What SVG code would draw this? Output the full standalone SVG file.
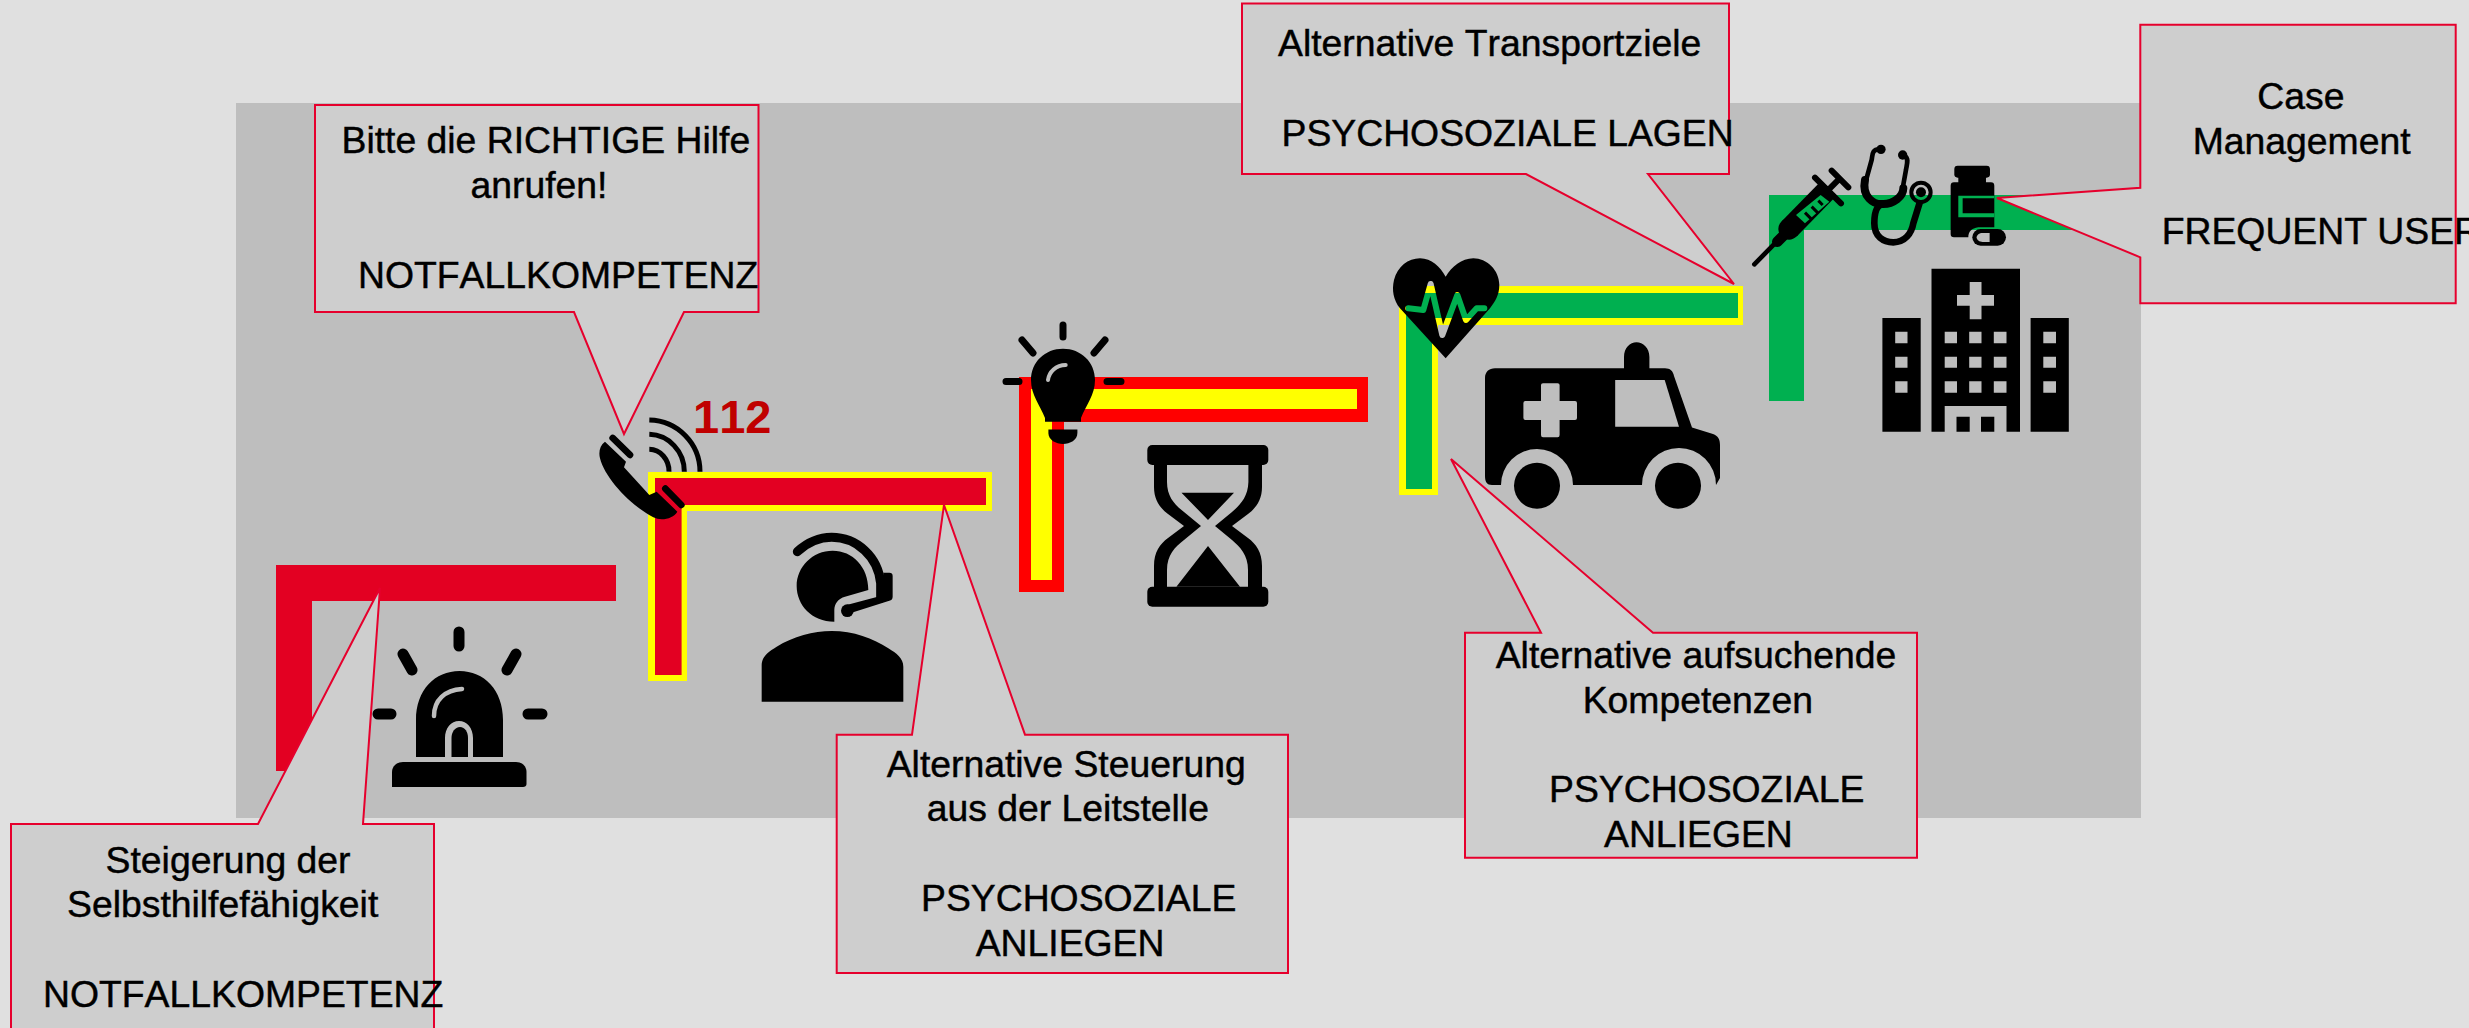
<svg xmlns="http://www.w3.org/2000/svg" width="2469" height="1028" viewBox="0 0 2469 1028">
<style>
text{font-family:"Liberation Sans",Arial,sans-serif;font-size:37.33px;fill:#000;stroke:#000;stroke-width:.45;font-kerning:none}
.call{fill:#CECECE;stroke:#E6002D;stroke-width:2;stroke-linejoin:miter}
.ray{fill:none;stroke:#000;stroke-linecap:round}
.gap{fill:#BEBEBE}
</style>
<defs>
<mask id="pulse" maskUnits="userSpaceOnUse" x="0" y="0" width="420" height="390">
<rect width="420" height="390" fill="#fff"/>
<polyline points="85,205 130,210 152,132 187,285 232,165 258,240 290,205 313,205" fill="none" stroke="#000" stroke-width="18" stroke-linejoin="round" stroke-linecap="round"/>
</mask>
</defs>
<rect id="background" width="2469" height="1028" fill="#E0E0E0"/>
<rect id="panel" x="236" y="103" width="1905" height="715" fill="#BEBEBE"/>
<g id="connectors">
<path fill="#E30022" d="M276 565H616V601H312V771H276Z"/>
<path fill="#FFFF00" d="M648 472H992V511H687V681H648Z"/>
<path fill="#E30022" d="M655 478H986V505H681.600V675H655Z"/>
<path fill="#FF0000" d="M1019 377H1368V422H1064V592H1019Z"/>
<path fill="#FFFF00" d="M1031 389H1357V409H1052V580H1031Z"/>
<path fill="#FFFF00" d="M1399 286H1743V325H1438V495H1399Z"/>
<path fill="#00B050" d="M1406 293H1738V318H1432V489H1406Z"/>
<path fill="#00B050" d="M1769 195H2090V230H1804V401H1769Z"/>
</g>
<g id="icon-alarm">
<g class="ray" stroke-width="11"><path d="M459 632V646M403 654L412 670M516 654L507 670M378 714H391M528 714H542"/></g>
<path d="M416 757V720C416 690 435 671 459.500 671C484 671 503 690 503 720V757H473V738C473 728 467 721 459 721C451 721 445 728 445 738V757Z"/>
<path d="M451.500 757V738C451.500 732 455 727 460 727C465 727 468 732 468 738V757Z"/>
<path d="M462 689C445 690 434 700 434 716" fill="none" stroke="#BEBEBE" stroke-width="4.500" stroke-linecap="round"/>
<path d="M392 787V772C392 766 397 762 403 762H516C522 762 526.500 766 526.500 772V784C526.500 786 525 787 523 787Z"/>
</g>
<g id="icon-phone" transform="translate(590 390) scale(.3333)">
<path d="M45 155L108 215L102 232L178 315L200 305L262 365C250 385 215 395 190 382C120 345 45 265 30 205C25 185 30 165 45 155Z"/>
<g class="ray"><path stroke-width="20" d="M68 144L120 195M226 296L274 345"/></g>
<g fill="none" stroke="#000" stroke-width="15"><path d="M178 90A155 155 0 0 1 330 245"/><path d="M178 133A108 112 0 0 1 283 245"/><path d="M178 178A60 66 0 0 1 237 245"/></g>
</g>
<text id="label-112" x="693" y="432.500" style="font-size:47px;font-weight:bold;fill:#C00000;stroke:none">112</text>
<g id="icon-headset" transform="translate(740 520) scale(.3333)">
<path d="M283 305C215 305 170 255 170 198C170 140 218 92 278 92C338 92 385 140 385 210L315 230C295 236 283 250 283 270Z"/>
<path d="M172 95C205 65 240 52 275 52C350 52 415 110 422 190V235" fill="none" stroke="#000" stroke-width="27" stroke-linecap="round"/>
<path d="M430 158H448Q458 158 458 168V230Q458 240 448 242L330 280L320 255L430 226Z"/>
<circle cx="322" cy="272" r="19"/>
<path d="M65 545V435C65 410 85 395 110 380C160 350 220 333 275 333C340 333 400 355 445 385C470 400 490 415 490 440V545Z"/>
</g>
<g id="icon-bulb">
<g class="ray" stroke-width="7"><path d="M1063 325V337M1022 340L1033 353M1105 340L1094 353M1006 381.500H1019M1107 381.500H1121"/></g>
<path d="M1063 348.700C1045 348.700 1031 362 1031 380C1031 395 1040 405 1045 418V421.700H1081V418C1086 405 1095 395 1095 380C1095 362 1081 348.700 1063 348.700Z"/>
<path d="M1065.700 365C1056 365 1049 372 1048 380" fill="none" stroke="#BEBEBE" stroke-width="4" stroke-linecap="round"/>
<path d="M1048.400 429.500H1077.400V433C1077.400 440 1070 444 1063 444C1056 444 1048.400 440 1048.400 433Z"/>
</g>
<g id="icon-hourglass">
<rect x="1147.300" y="445" width="121" height="20" rx="5"/>
<rect x="1147.300" y="586.700" width="121" height="20" rx="5"/>
<path fill-rule="evenodd" d="M1154 460V487C1154 500 1160 508 1168 514L1184 526L1168 538C1160 544 1154 552 1154 566V592H1262V566C1262 552 1256 544 1248 538L1232 526L1248 514C1256 508 1262 500 1262 487V460ZM1167 465H1248.400V482C1248 497 1240 505 1232 512L1215 526L1232 540C1240 547 1248 555 1248 570V587H1167V570C1167 555 1175 547 1184 540L1201 526L1184 512C1175 505 1167 497 1167 482Z"/>
<path d="M1181.500 492.700H1234L1208 520ZM1208 546L1240 586.700H1176.400Z"/>
</g>
<g id="icon-heart" transform="translate(1380 240) scale(.3333)">
<path mask="url(#pulse)" d="M197 355L60 205C40 180 35 150 42 120C52 80 85 55 120 55C155 55 180 80 197 110C215 80 245 55 280 55C320 55 358 90 358 135C358 165 345 185 330 205Z"/>
</g>
<g id="icon-ambulance">
<path d="M1495 368.300H1624V357C1624 348 1630 342.300 1636.500 342.300C1643 342.300 1649.400 348 1649.400 357V368.300H1665C1670 368.300 1673 371 1674 376L1692 427.500L1713 434C1718 436 1720 439 1720 445V478L1716 485A36 36 0 0 0 1642 485H1573A36 36 0 0 0 1501 485H1492C1487 485 1485 482 1485 476V378C1485 372 1489 368.300 1495 368.300Z"/>
<path class="gap" d="M1615.200 380H1664.700L1679 426.700H1615.200Z"/>
<path class="gap" d="M1541 385Q1541 383.300 1543 383.300H1557.600Q1559.600 383.300 1559.600 385V401H1575Q1577 401 1577 403V418Q1577 420 1575 420H1559.600V435Q1559.600 437.300 1557.600 437.300H1543Q1541 437.300 1541 435V420H1525.400Q1523.400 420 1523.400 418V403Q1523.400 401 1525.400 401H1541Z"/>
<circle cx="1537" cy="485.700" r="23"/>
<circle cx="1678" cy="485.700" r="23"/>
</g>
<g id="icon-syringe" transform="translate(1740 130) scale(.3333)">
<path class="ray" stroke-width="14" d="M43 403L110 335"/>
<path class="ray" stroke-width="32" d="M112 335L130 317"/>
<path fill="none" stroke="#000" stroke-width="64" d="M148 296L258 184"/>
<circle cx="147" cy="297" r="32"/>
<path fill="#00B050" d="M168 255L242 195L268 215L195 280Z"/>
<path fill="none" stroke="#000" stroke-width="9" d="M195 248L215 268M215 230L235 250M235 212L248 225"/>
<path class="ray" stroke-width="18" d="M260 185L295 150M275 122L325 172M225 143L303 220"/>
</g>
<g id="icon-stethoscope" transform="translate(1740 130) scale(.3333)">
<circle cx="423" cy="58" r="14"/><circle cx="488" cy="75" r="14"/>
<path d="M418 58C395 58 398 75 395 90L377 155M494 78C508 85 500 105 498 120L488 175" fill="none" stroke="#000" stroke-width="14"/>
<path d="M375 150C365 200 400 225 430 222C460 222 490 200 490 175" fill="none" stroke="#000" stroke-width="24" stroke-linecap="round"/>
<path d="M430 222C405 225 403 260 403 280C403 320 430 337 460 337C495 337 515 310 520 280L540 215" fill="none" stroke="#000" stroke-width="20"/>
<circle cx="543" cy="187" r="29" fill="none" stroke="#000" stroke-width="12"/>
<circle cx="543" cy="187" r="15"/>
</g>
<g id="icon-medicine" transform="translate(1740 130) scale(.3333)">
<rect x="643" y="107" width="107" height="36" rx="10"/>
<rect x="655" y="140" width="83" height="20"/>
<path d="M642 157H753Q763 157 763 167V292H715C695 295 685 305 685 322H642Q632 322 632 312V167Q632 157 642 157Z"/>
<path fill="#00B050" d="M655 197H763V205H668V250H763V262H655Z"/>
<rect x="697" y="297" width="101" height="50" rx="25"/>
<path class="gap" d="M728 309H749V336H728C718 336 710 330 710 322C710 315 718 309 728 309Z"/>
</g>
<g id="icon-hospital">
<path fill-rule="evenodd" d="M1931.500 268.700H2020V431.700H2006.500V406H1944.700V431.700H1931.500ZM1969.700 282V295H1957V305.700H1969.700V319.300H1981.500V305.700H1994V295H1981.500V282ZM1944.700 331.700V343.300H1957V331.700ZM1969.200 331.700V343.300H1981.500V331.700ZM1993.800 331.700V343.300H2006.500V331.700ZM1944.700 356.700V367.700H1957V356.700ZM1969.200 356.700V367.700H1981.500V356.700ZM1993.800 356.700V367.700H2006.500V356.700ZM1944.700 381.300V392.700H1957V381.300ZM1969.200 381.300V392.700H1981.500V381.300ZM1993.800 381.300V392.700H2006.500V381.300Z"/>
<path d="M1956.500 416.700H1969.700V431.700H1956.500ZM1981 416.700H1994.300V431.700H1981Z"/>
<path fill-rule="evenodd" d="M1882.400 318H1920.700V431.700H1882.400ZM1895.200 331.700V343.300H1907.500V331.700ZM1895.200 356.700V367.700H1907.500V356.700ZM1895.200 381.300V392.700H1907.500V381.300Z"/>
<path fill-rule="evenodd" d="M2030.600 318H2068.800V431.700H2030.600ZM2043.300 331.700V343.300H2056V331.700ZM2043.300 356.700V367.700H2056V356.700ZM2043.300 381.300V392.700H2056V381.300Z"/>
</g>
<g id="callout-selbsthilfe">
<path class="call" d="M11 824H258L380 588L363 824H434V1040H11Z"/>
<text x="105.600" y="873">Steigerung der</text>
<text x="67" y="917">Selbsthilfefähigkeit</text>
<text x="43" y="1007">NOTFALLKOMPETENZ</text>
</g>
<g id="callout-hilfe">
<path class="call" d="M315 105H758.500V312H684L624 434L574 312H315Z"/>
<text x="341.500" y="153">Bitte die RICHTIGE Hilfe</text>
<text x="470.500" y="198">anrufen!</text>
<text x="358" y="288">NOTFALLKOMPETENZ</text>
</g>
<g id="callout-leitstelle">
<path class="call" d="M836.700 734.700H912L944 505L1025 734.700H1288V973H836.700Z"/>
<text x="886.700" y="777">Alternative Steuerung</text>
<text x="926.700" y="821">aus der Leitstelle</text>
<text x="921" y="911">PSYCHOSOZIALE</text>
<text x="975.700" y="956">ANLIEGEN</text>
</g>
<g id="callout-aufsuchend">
<path class="call" d="M1465 632.700H1541L1451 459L1653 632.700H1917V857.700H1465Z"/>
<text x="1495.700" y="668">Alternative aufsuchende</text>
<text x="1582.700" y="712.700">Kompetenzen</text>
<text x="1549" y="802">PSYCHOSOZIALE</text>
<text x="1604" y="847">ANLIEGEN</text>
</g>
<g id="callout-transport">
<path class="call" d="M1242 3.500H1729V174H1648L1734 284L1526 174H1242Z"/>
<text x="1278" y="56">Alternative Transportziele</text>
<text x="1281.500" y="145.700">PSYCHOSOZIALE LAGEN</text>
</g>
<g id="callout-case">
<path class="call" d="M2140.300 24.700H2455.700V303.300H2140.300V257.300L1997 198L2140.300 187.700Z"/>
<text x="2257.300" y="109">Case</text>
<text x="2192.700" y="154">Management</text>
<text x="2161.700" y="244">FREQUENT USER</text>
</g>
</svg>
